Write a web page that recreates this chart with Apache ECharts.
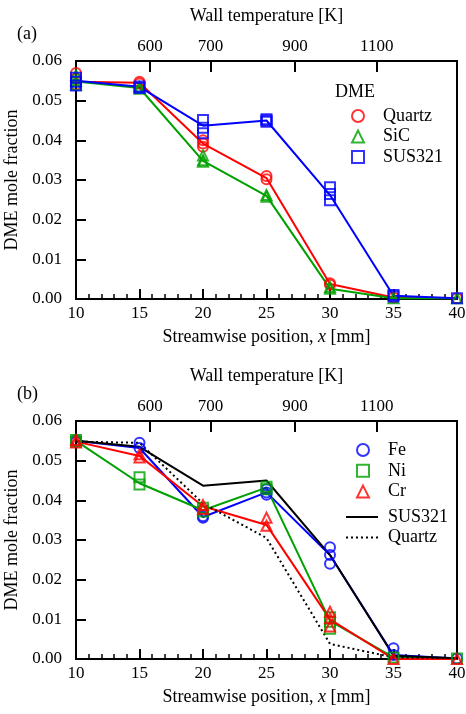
<!DOCTYPE html>
<html>
<head>
<meta charset="utf-8">
<script src="https://cdn.jsdelivr.net/npm/echarts@6.0.0/dist/echarts.min.js"></script>
<style>
  html, body { margin: 0; padding: 0; background: #fff; }
  #chart { width: 466px; height: 714px; }
</style>
</head>
<body>
<div id="chart"></div>
<script>
// streamwise positions [mm]
const positions = [10, 15, 20, 25, 30, 35, 40];

// top axis: wall temperature labels placed at streamwise positions
const wallTempPos = [15.83, 20.6, 27.24, 33.68];
const wallTempLabels = ['600', '700', '900', '1100'];

// (a) replicate measurements at each position
const quartzPts = [[0.0570, 0.0556, 0.0540], [0.0548, 0.0543], [0.0400, 0.0392, 0.0384], [0.0310, 0.0302], [0.0040, 0.0036], [0.0004], [0.0002]];
const sicPts = [[0.0564, 0.0550, 0.0540], [0.0535, 0.0530], [0.0362, 0.0350, 0.0346], [0.0262, 0.0258], [0.0030, 0.0026], [0.0002], [0.0002]];
const sus321Pts = [[0.0558, 0.0548, 0.0538], [0.0536, 0.0532], [0.0451, 0.0432, 0.0418], [0.0453, 0.0450, 0.0447], [0.0282, 0.0265, 0.0249], [0.0010, 0.0006], [0.0002]];
// (a) mean lines
const quartzLine = [0.0548, 0.0545, 0.0392, 0.0305, 0.0038, 0.0004, 0.0002];
const sicLine = [0.0548, 0.0532, 0.0348, 0.0260, 0.0026, 0.0002, 0.0002];
const sus321Line = [0.0550, 0.0535, 0.0437, 0.0450, 0.0262, 0.0008, 0.0002];

// (b) replicate measurements
const fePts = [[0.0552, 0.0548], [0.0545, 0.0532], [0.0360, 0.0356], [0.0428, 0.0420, 0.0414], [0.0282, 0.0262, 0.0240], [0.0027, 0.0010], [0.0001]];
const niPts = [[0.0552, 0.0548], [0.0458, 0.0440], [0.0381, 0.0372], [0.0434, 0.0428], [0.0105, 0.0094, 0.0076], [0.0004], [0.0001]];
const crPts = [[0.0552, 0.0546], [0.0516, 0.0508], [0.0388, 0.0378], [0.0356, 0.0336], [0.0119, 0.0103, 0.0082], [0.0000], [0.0000]];
// (b) mean lines
const feLine = [0.0550, 0.0532, 0.0358, 0.0420, 0.0262, 0.0010, 0.0001];
const niLine = [0.0550, 0.0443, 0.0375, 0.0432, 0.0096, 0.0004, 0.0001];
const crLine = [0.0548, 0.0512, 0.0385, 0.0338, 0.0100, 0.0000, 0.0000];

const FONT = 'Liberation Serif';
const RED = '#ff0000', GREEN = '#00a000', BLUE = '#0000ff';

const pairs = (ys) => positions.map((x, i) => [x, ys[i]]);
const flat = (pts) => {
  let out = [];
  pts.forEach((vals, i) => vals.forEach(v => out.push([positions[i], v])));
  return out;
};

function lineSeries(name, ys, color, idx, type) {
  return {
    name: name, type: 'line', xAxisIndex: idx * 2, yAxisIndex: idx,
    data: pairs(ys), symbol: 'none', silent: true,
    lineStyle: { color: color, width: 2, type: type || 'solid' },
    itemStyle: { color: color },
    z: 2
  };
}
function pointSeries(name, pts, color, symbol, idx) {
  return {
    name: name, type: 'scatter', xAxisIndex: idx * 2, yAxisIndex: idx,
    data: flat(pts), symbol: symbol, symbolSize: 10,
    itemStyle: { color: 'rgba(0,0,0,0)', borderColor: color, borderWidth: 2 },
    z: 3
  };
}

function bottomAxis(idx) {
  return {
    gridIndex: idx, type: 'value', position: 'bottom', min: 10, max: 40, interval: 5,
    axisLine: { lineStyle: { color: '#000', width: 2 } },
    axisTick: { inside: true, length: 10, lineStyle: { color: '#000', width: 2 } },
    minorTick: { show: true, splitNumber: 5, length: 5, lineStyle: { color: '#000', width: 1.5 } },
    splitLine: { show: false },
    axisLabel: { color: '#000', fontSize: 17, fontFamily: FONT, margin: 6 },
    name: 'Streamwise position, {i|x} [mm]', nameLocation: 'middle', nameGap: 29,
    nameTextStyle: { color: '#000', fontSize: 18, fontFamily: FONT,
      rich: { i: { fontStyle: 'italic', fontSize: 18, fontFamily: FONT, color: '#000' } } }
  };
}
function topAxis(idx) {
  return {
    gridIndex: idx, type: 'value', position: 'top', min: 10, max: 40,
    axisLine: { lineStyle: { color: '#000', width: 2 } },
    axisTick: { inside: true, length: 11, customValues: wallTempPos, lineStyle: { color: '#000', width: 2 } },
    splitLine: { show: false },
    axisLabel: {
      color: '#000', fontSize: 17, fontFamily: FONT, margin: 6, customValues: wallTempPos,
      formatter: (v) => {
        let k = wallTempPos.findIndex(p => Math.abs(p - v) < 1e-6);
        return k >= 0 ? wallTempLabels[k] : '';
      }
    },
    name: 'Wall temperature [K]', nameLocation: 'middle', nameGap: 36,
    nameTextStyle: { color: '#000', fontSize: 18, fontFamily: FONT }
  };
}
function leftAxis(idx) {
  return {
    gridIndex: idx, type: 'value', min: 0, max: 0.06, interval: 0.01,
    axisLine: { show: true, lineStyle: { color: '#000', width: 2 } },
    axisTick: { show: true, inside: true, length: 10, lineStyle: { color: '#000', width: 2 } },
    splitLine: { show: false },
    axisLabel: { color: '#000', fontSize: 17, fontFamily: FONT, margin: 14, formatter: (v) => v.toFixed(2) },
    name: 'DME mole fraction', nameLocation: 'middle', nameGap: 45,
    nameTextStyle: { color: '#000', fontSize: 18, fontFamily: FONT }
  };
}

const legendText = (pad) => ({ color: '#000', fontSize: 18, fontFamily: FONT, padding: [0, 0, 0, pad] });

const chart = echarts.init(document.getElementById('chart'));
chart.setOption({
  animation: false,
  backgroundColor: '#fff',
  title: [
    { text: '(a)', left: 17, top: 25, textStyle: { color: '#000', fontSize: 18, fontWeight: 'normal', fontFamily: FONT }, padding: 0 },
    { text: '(b)', left: 17, top: 385, textStyle: { color: '#000', fontSize: 18, fontWeight: 'normal', fontFamily: FONT }, padding: 0 },
    { text: 'DME', left: 335, top: 83, textStyle: { color: '#000', fontSize: 18, fontWeight: 'normal', fontFamily: FONT }, padding: 0 }
  ],
  grid: [
    { left: 76, top: 61, width: 381, height: 238, show: true, borderColor: '#000', borderWidth: 2, outerBoundsMode: 'none' },
    { left: 76, top: 421, width: 381, height: 238, show: true, borderColor: '#000', borderWidth: 2, outerBoundsMode: 'none' }
  ],
  xAxis: [bottomAxis(0), topAxis(0), bottomAxis(1), topAxis(1)],
  yAxis: [leftAxis(0), leftAxis(1)],
  legend: [
    { data: ['Quartz', 'SiC', 'SUS321'], orient: 'vertical', left: 351, top: 107, padding: 0,
      itemWidth: 12, itemHeight: 12, itemGap: 2.5, textStyle: legendText(14),
      itemStyle: { borderWidth: 2 }, selectedMode: false },
    { data: ['Fe', 'Ni', 'Cr'], orient: 'vertical', left: 356, top: 441, padding: 0,
      itemWidth: 12, itemHeight: 12, itemGap: 2.8, textStyle: legendText(14),
      itemStyle: { borderWidth: 2 }, selectedMode: false },
    { data: ['SUS321 ', 'Quartz '], orient: 'vertical', left: 345, top: 508, padding: 0,
      itemWidth: 32, itemHeight: 12, itemGap: 2.5, textStyle: legendText(5),
      itemStyle: { color: 'rgba(0,0,0,0)', borderWidth: 0 }, selectedMode: false }
  ],
  series: [
    lineSeries('Quartz line', quartzLine, RED, 0),
    lineSeries('SiC line', sicLine, GREEN, 0),
    lineSeries('SUS321 line', sus321Line, BLUE, 0),
    pointSeries('Quartz', quartzPts, RED, 'circle', 0),
    pointSeries('SiC', sicPts, GREEN, 'triangle', 0),
    pointSeries('SUS321', sus321Pts, BLUE, 'rect', 0),

    lineSeries('Fe line', feLine, BLUE, 1),
    lineSeries('Ni line', niLine, GREEN, 1),
    lineSeries('Cr line', crLine, RED, 1),
    pointSeries('Fe', fePts, BLUE, 'circle', 1),
    pointSeries('Ni', niPts, GREEN, 'rect', 1),
    pointSeries('Cr', crPts, RED, 'triangle', 1),
    lineSeries('SUS321 ', sus321Line, '#000', 1),
    lineSeries('Quartz ', quartzLine, '#000', 1, [2, 3])
  ]
});
</script>
</body>
</html>
